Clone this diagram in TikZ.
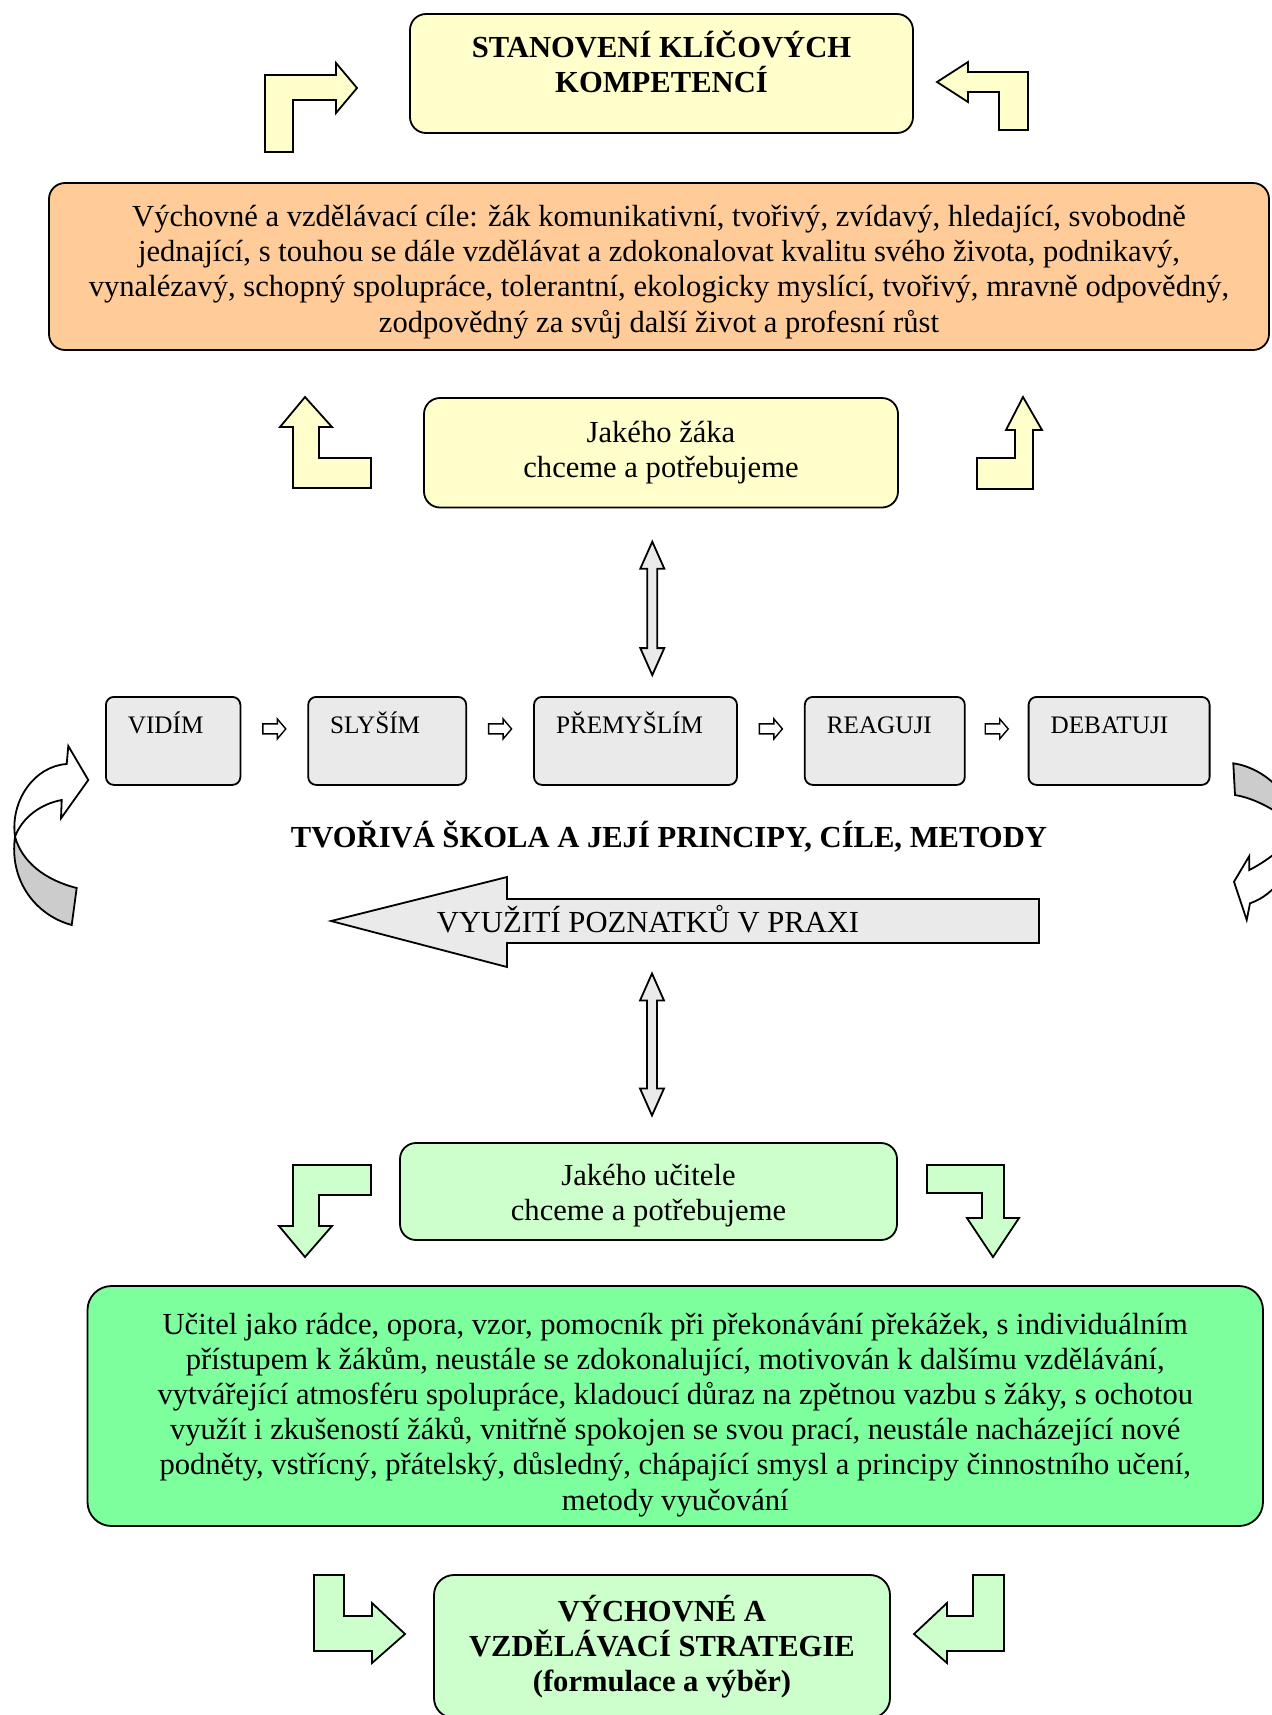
\documentclass[tikz,border=0pt]{standalone}
\usepackage{fontspec}
\setmainfont{Liberation Serif}
\usetikzlibrary{calc, positioning}

\definecolor{paleyellow}{HTML}{FFFFCC}
\definecolor{peach}{HTML}{FFCC99}
\definecolor{stepgray}{HTML}{EAEAEA}
\definecolor{palegreen}{HTML}{CCFFCC}
\definecolor{mint}{HTML}{7DFF9D}
\definecolor{curlgray}{HTML}{CCCCCC}

\newcommand{\bodysize}{\fontsize{15.3}{17.6}\selectfont}
\newcommand{\stepsize}{\fontsize{12.6}{14.5}\selectfont}

\tikzset{
  box/.style={draw, line width=0.9pt, rounded corners=#1, align=center, inner sep=0pt},
  box/.default=8pt,
  stepbox/.style={draw, line width=0.9pt, rounded corners=4pt, fill=stepgray, font=\stepsize,
    align=left, text width=#1, inner xsep=11pt, inner ysep=9.9pt, text height=8.3pt, text depth=15.9pt},
  blockarrow/.style={draw, line width=0.9pt, line join=miter},
  pics/smallarrow/.style={code={
    \filldraw[blockarrow, fill=white, line width=0.7pt] (-11.5,-5) -- (3,-5) -- (3,-10) -- (11.5,0)
      -- (3,10) -- (3,5) -- (-11.5,5) -- cycle;}},
  pics/dblarrow/.style={code={
    \filldraw[blockarrow, fill=stepgray] (0,-#1) -- (12,{-#1+27}) -- (5,{-#1+27}) -- (5,{#1-27})
      -- (12,{#1-27}) -- (0,#1) -- (-12,{#1-27}) -- (-5,{#1-27}) -- (-5,{-#1+27}) -- (-12,{-#1+27}) -- cycle;}}
}

\begin{document}
\begin{tikzpicture}[x=0.5pt, y=-0.5pt, font=\bodysize, node distance=33pt]
\useasboundingbox (0,0) rectangle (1272,1715);
\fill[white] (0,0) rectangle (1272,1715);
\clip (0,0) rectangle (1272,1715);
% Top part
\node[box, fill=paleyellow, minimum width=251.5pt, minimum height=59.5pt] (komp) at (661.5,73.5) {};
\node[font=\bodysize\bfseries, align=center] (kompt) at ([yshift=6pt]komp.center) {STANOVENÍ KLÍČOVÝCH\\KOMPETENCÍ};
\node[box, fill=peach, minimum width=610pt, minimum height=83.5pt] (cile) at (659,266.5) {};
\node[align=center] (cilet) at ([yshift=-2.7pt]cile.center)
  {Výchovné a vzdělávací cíle: žák komunikativní, tvořivý, zvídavý, hledající, svobodně\\
   jednající, s touhou se dále vzdělávat a zdokonalovat kvalitu svého života, podnikavý,\\
   vynalézavý, schopný spolupráce, tolerantní, ekologicky myslící, tvořivý, mravně odpovědný,\\
   zodpovědný za svůj další život a profesní růst};
\node[box, fill=paleyellow, minimum width=237pt, minimum height=54.75pt] (zak) at (661,452.75)
  {Jakého žáka\\chceme a potřebujeme};
% Bent arrows (yellow)
\filldraw[blockarrow, fill=paleyellow] (265,152) -- (265,75) -- (336,75) -- (336,63) -- (357,88)
  -- (336,113) -- (336,100) -- (293,100) -- (293,152) -- cycle;
\filldraw[blockarrow, fill=paleyellow] (1028,130) -- (1028,72) -- (968,72) -- (968,62) -- (937,82)
  -- (968,102) -- (968,92) -- (999,92) -- (999,130) -- cycle;
\filldraw[blockarrow, fill=paleyellow] (371,488) -- (293,488) -- (293,427) -- (280,427) -- (305,397)
  -- (332,427) -- (319,427) -- (319,458) -- (371,458) -- cycle;
\filldraw[blockarrow, fill=paleyellow] (977,489) -- (1033,489) -- (1033,430) -- (1042,430) -- (1023,397)
  -- (1006,430) -- (1015,430) -- (1015,458) -- (977,458) -- cycle;
% Steps
\node[stepbox=45.25pt, anchor=north west] (vidim) at (105,696) {VIDÍM};
\node[stepbox=57pt, right=of vidim] (slysim) {SLYŠÍM};
\node[stepbox=79.5pt, right=of slysim] (premyslim) {PŘEMYŠLÍM};
\node[stepbox=58pt, right=of premyslim] (reaguji) {REAGUJI};
\node[stepbox=68.5pt, right=31pt of reaguji] (debatuji) {DEBATUJI};
\foreach \a/\b in {vidim/slysim, slysim/premyslim, premyslim/reaguji, reaguji/debatuji}
  \pic at ($(\a.east)!.5!(\b.west)+(0,-12)$) {smallarrow};
\node[font=\bodysize\bfseries] (title) at (669,837) {TVOŘIVÁ ŠKOLA A JEJÍ PRINCIPY, CÍLE, METODY};
% Praxe
\filldraw[blockarrow, fill=stepgray] (1039,899) -- (507,899) -- (507,877) -- (331,921) -- (507,967)
  -- (507,943) -- (1039,943) -- cycle;
\node (praxe) at (648,919) {VYUŽITÍ POZNATKŮ V PRAXI};
\coordinate (d1) at (652.3,608.4);
\coordinate (d2) at (652,1044.5);
\pic at (d1) {dblarrow=66.7};
\pic at (d2) {dblarrow=71};
% Curls
\filldraw[blockarrow, fill=white] (15,836.7) .. controls (10,800) and (35,766) .. (66.7,764) -- (68.3,746)
  -- (88.3,780) -- (61,818.3) -- (61.7,800) .. controls (40,804) and (22,818) .. (15,836.7) -- cycle;
\filldraw[blockarrow, fill=curlgray] (15,836.7) .. controls (9,880) and (35,915) .. (71.7,925) -- (76.7,888)
  .. controls (45,880) and (22,862) .. (15,836.7) -- cycle;
\filldraw[blockarrow, fill=curlgray] (1233.3,763.3) .. controls (1265,768) and (1292,795) .. (1300,828)
  .. controls (1290,822) and (1265,800) .. (1235,795) -- cycle;
\filldraw[blockarrow, fill=white] (1300,828) .. controls (1298,865) and (1275,895) .. (1250,903.3)
  -- (1246.7,920) -- (1234,881.7) -- (1249.3,856) -- (1249.3,870)
  .. controls (1265,862) and (1285,848) .. (1300,828) -- cycle;
% Bottom part
\node[box, fill=palegreen, minimum width=248.5pt, minimum height=48.5pt] (ucitel) at (648.5,1191.5) {};
\node[align=center] (ucitelt) at ([yshift=-1.9pt]ucitel.center) {Jakého učitele\\chceme a potřebujeme};
\filldraw[blockarrow, fill=palegreen] (293,1165) -- (371,1165) -- (371,1195) -- (319,1195) -- (319,1226)
  -- (332,1226) -- (305,1257) -- (279,1226) -- (293,1226) -- cycle;
\filldraw[blockarrow, fill=palegreen] (927,1165) -- (1004,1165) -- (1004,1218) -- (1019,1218) -- (993,1257)
  -- (967,1218) -- (982,1218) -- (982,1193) -- (927,1193) -- cycle;
\node[box=12pt, fill=mint, minimum width=587.75pt, minimum height=120pt] (role) at (675.25,1406) {};
\node[align=center] (rolet) at ([yshift=-4.4pt]role.center)
  {Učitel jako rádce, opora, vzor, pomocník při překonávání překážek, s individuálním\\
   přístupem k žákům, neustále se zdokonalující, motivován k dalšímu vzdělávání,\\
   vytvářející atmosféru spolupráce, kladoucí důraz na zpětnou vazbu s žáky, s ochotou\\
   využít i zkušeností žáků, vnitřně spokojen se svou prací, neustále nacházející nové\\
   podněty, vstřícný, přátelský, důsledný, chápající smysl a principy činnostního učení,\\
   metody vyučování};
\filldraw[blockarrow, fill=palegreen] (314,1575) -- (344,1575) -- (344,1616) -- (372,1616) -- (372,1603)
  -- (405,1634) -- (372,1663) -- (372,1651) -- (314,1651) -- cycle;
\filldraw[blockarrow, fill=palegreen] (1004,1575) -- (973,1575) -- (973,1616) -- (947,1616) -- (947,1603)
  -- (914,1634) -- (947,1663) -- (947,1651) -- (1004,1651) -- cycle;
\node[box=10pt, fill=palegreen, minimum width=228pt, minimum height=71.5pt, font=\bodysize\bfseries]
  (strategie) at (662,1646.5) {VÝCHOVNÉ A\\VZDĚLÁVACÍ STRATEGIE\\(formulace a výběr)};
\end{tikzpicture}
\end{document}
